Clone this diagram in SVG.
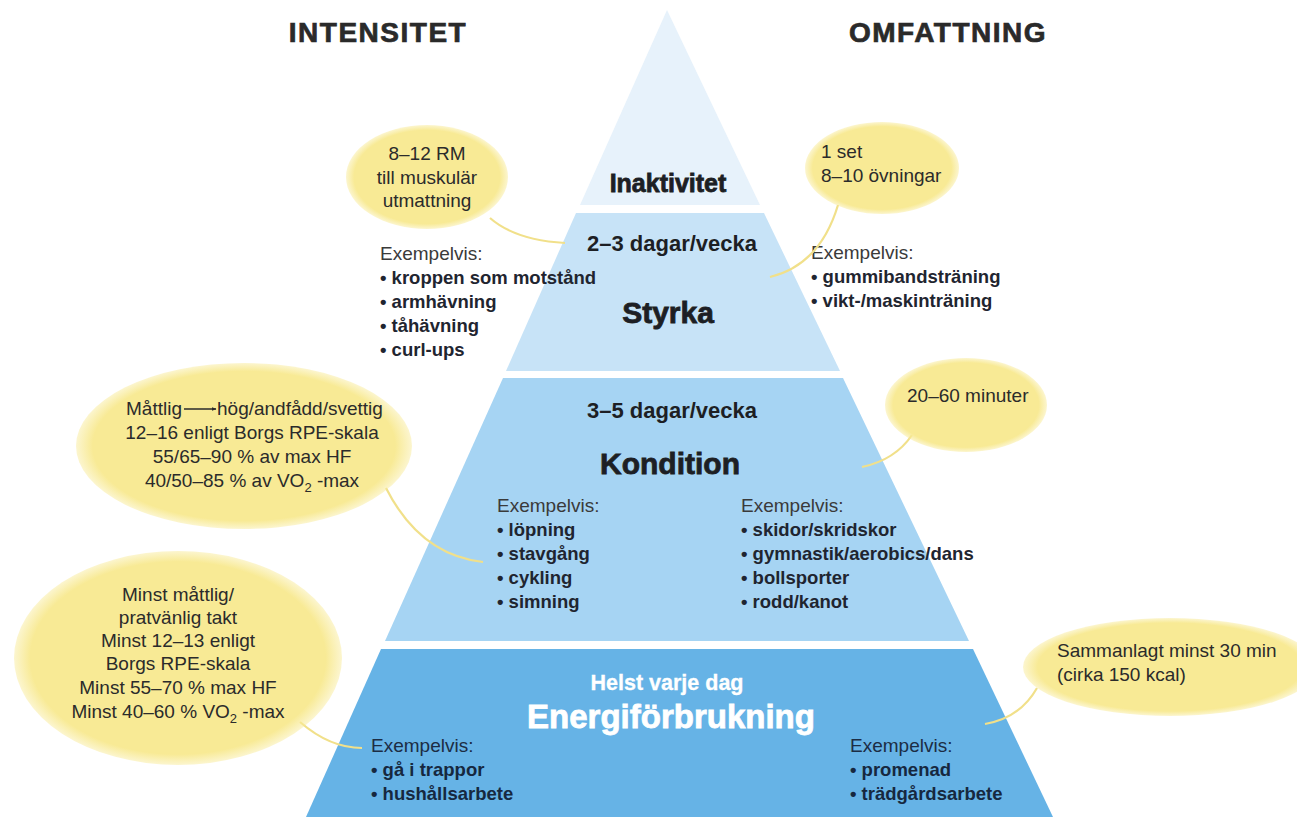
<svg xmlns="http://www.w3.org/2000/svg" width="1297" height="817" viewBox="0 0 1297 817">
  <defs>
    <radialGradient id="bub" cx="0.5" cy="0.5" r="0.5">
      <stop offset="0" stop-color="#f8ea95"/>
      <stop offset="0.9" stop-color="#f8ea95"/>
      <stop offset="1" stop-color="#f8ea95" stop-opacity="0.45"/>
    </radialGradient>
    <marker id="arr" viewBox="0 0 10 10" refX="9" refY="5" markerWidth="5" markerHeight="5" orient="auto" markerUnits="userSpaceOnUse">
      <path d="M0,1 L10,5 L0,9 z" fill="#2b2b2b"/>
    </marker>
  </defs>
  <style>
    .hdr { font-family: "Liberation Sans", Arial, sans-serif; font-weight: bold; font-size: 28px; letter-spacing: 1.5px; fill: #2a2a2a; stroke: #2a2a2a; stroke-width: 0.7px; }
    .bt { font-family: "Liberation Sans", Arial, sans-serif; font-size: 19px; fill: #2b2b2b; }
    .ex { font-family: "Liberation Sans", Arial, sans-serif; font-size: 19px; fill: #3a3a3a; }
    .bl { font-family: "Liberation Sans", Arial, sans-serif; font-size: 18.5px; font-weight: bold; fill: #1f2530; }
    .exd { font-family: "Liberation Sans", Arial, sans-serif; font-size: 19px; fill: #1c2d44; }
    .bld { font-family: "Liberation Sans", Arial, sans-serif; font-size: 18.5px; font-weight: bold; fill: #16283f; }
    .big { font-family: "Liberation Sans", Arial, sans-serif; font-weight: bold; fill: #1d1f24; stroke: #1d1f24; stroke-width: 0.8px; text-anchor: middle; }
    .white { fill: #ffffff; stroke: #ffffff; }
    .thin { stroke-width: 0.3px; }
    .freq { font-family: "Liberation Sans", Arial, sans-serif; font-weight: bold; font-size: 22px; fill: #1d1f24; text-anchor: middle; }
    .bubble { fill: url(#bub); }
    .conn { fill: none; stroke: #f1e08a; stroke-width: 2.2; }
  </style>
  <rect width="1297" height="817" fill="#ffffff"/>

  <text class="hdr" x="378" y="42" text-anchor="middle">INTENSITET</text>
  <text class="hdr" x="948" y="42" text-anchor="middle">OMFATTNING</text>

  <g id="inaktivitet">
    <polygon points="667,10 760,205 580,205" fill="#e7f2fb"/>
    <text class="big" x="668" y="192" font-size="25">Inaktivitet</text>
  </g>

  <g id="styrka">
    <polygon points="576,213 764,213 840,371 506,371" fill="#c7e3f7"/>
    <text class="freq" x="672" y="251">2–3 dagar/vecka</text>
    <text class="big" x="668" y="323" font-size="30">Styrka</text>
    <text class="ex" x="380" y="260">Exempelvis:</text>
    <text class="bl" x="380" y="284">• kroppen som motstånd</text>
    <text class="bl" x="380" y="308">• armhävning</text>
    <text class="bl" x="380" y="332">• tåhävning</text>
    <text class="bl" x="380" y="356">• curl-ups</text>
    <text class="ex" x="811" y="259">Exempelvis:</text>
    <text class="bl" x="811" y="283">• gummibandsträning</text>
    <text class="bl" x="811" y="307">• vikt-/maskinträning</text>
  </g>

  <g id="kondition">
    <polygon points="503,378 843,378 969,641 385,641" fill="#a6d4f3"/>
    <text class="freq" x="672" y="418">3–5 dagar/vecka</text>
    <text class="big" x="670" y="474" font-size="30">Kondition</text>
    <text class="ex" x="497" y="512">Exempelvis:</text>
    <text class="bl" x="497" y="536">• löpning</text>
    <text class="bl" x="497" y="560">• stavgång</text>
    <text class="bl" x="497" y="584">• cykling</text>
    <text class="bl" x="497" y="608">• simning</text>
    <text class="ex" x="741" y="512">Exempelvis:</text>
    <text class="bl" x="741" y="536">• skidor/skridskor</text>
    <text class="bl" x="741" y="560">• gymnastik/aerobics/dans</text>
    <text class="bl" x="741" y="584">• bollsporter</text>
    <text class="bl" x="741" y="608">• rodd/kanot</text>
  </g>

  <g id="energi">
    <polygon points="381,649 973,649 1053,817 306,817" fill="#66b3e6"/>
    <text class="big white thin" x="667" y="690" font-size="21.5">Helst varje dag</text>
    <text class="big white" x="671" y="728" font-size="33">Energiförbrukning</text>
    <text class="exd" x="371" y="752">Exempelvis:</text>
    <text class="bld" x="371" y="776">• gå i trappor</text>
    <text class="bld" x="371" y="800">• hushållsarbete</text>
    <text class="exd" x="850" y="752">Exempelvis:</text>
    <text class="bld" x="850" y="776">• promenad</text>
    <text class="bld" x="850" y="800">• trädgårdsarbete</text>
  </g>

  <g id="connectors">
    <path class="conn" d="M 490 218 Q 515 240 565 243"/>
    <path class="conn" d="M 838 205 Q 820 265 770 277"/>
    <path class="conn" d="M 386 488 Q 420 555 483 562"/>
    <path class="conn" d="M 912 435 Q 895 460 862 467"/>
    <path class="conn" d="M 300 722 Q 330 748 362 748"/>
    <path class="conn" d="M 1037 688 Q 1020 718 985 724"/>
  </g>

  <g id="bubble-styrka-intensitet">
    <ellipse class="bubble" cx="427" cy="177" rx="81" ry="52"/>
    <text class="bt" x="427" y="160" text-anchor="middle">8–12 RM</text>
    <text class="bt" x="427" y="184" text-anchor="middle">till muskulär</text>
    <text class="bt" x="427" y="207" text-anchor="middle">utmattning</text>
  </g>

  <g id="bubble-styrka-omfattning">
    <ellipse class="bubble" cx="882" cy="168" rx="77" ry="46"/>
    <text class="bt" x="821" y="158">1 set</text>
    <text class="bt" x="821" y="182">8–10 övningar</text>
  </g>

  <g id="bubble-kondition-intensitet">
    <ellipse class="bubble" cx="244" cy="446" rx="168" ry="83"/>
    <text class="bt" x="182" y="415" text-anchor="end">Måttlig</text>
    <line x1="184" y1="409" x2="216" y2="409" stroke="#2b2b2b" stroke-width="1.5" marker-end="url(#arr)"/>
    <text class="bt" x="217" y="415">hög/andfådd/svettig</text>
    <text class="bt" x="252" y="439" text-anchor="middle">12–16 enligt Borgs RPE-skala</text>
    <text class="bt" x="252" y="463" text-anchor="middle">55/65–90 % av max HF</text>
    <text class="bt" x="252" y="487" text-anchor="middle">40/50–85 % av VO<tspan font-size="13" dy="5">2</tspan><tspan dy="-5"> -max</tspan></text>
  </g>

  <g id="bubble-kondition-omfattning">
    <ellipse class="bubble" cx="966" cy="405" rx="81" ry="47"/>
    <text class="bt" x="907" y="402">20–60 minuter</text>
  </g>

  <g id="bubble-energi-intensitet">
    <ellipse class="bubble" cx="178" cy="658" rx="164" ry="107"/>
    <text class="bt" x="178" y="601" text-anchor="middle">Minst måttlig/</text>
    <text class="bt" x="178" y="624" text-anchor="middle">pratvänlig takt</text>
    <text class="bt" x="178" y="647" text-anchor="middle">Minst 12–13 enligt</text>
    <text class="bt" x="178" y="670" text-anchor="middle">Borgs RPE-skala</text>
    <text class="bt" x="178" y="694" text-anchor="middle">Minst 55–70 % max HF</text>
    <text class="bt" x="178" y="718" text-anchor="middle">Minst 40–60 % VO<tspan font-size="13" dy="5">2</tspan><tspan dy="-5"> -max</tspan></text>
  </g>

  <g id="bubble-energi-omfattning">
    <ellipse class="bubble" cx="1170" cy="667" rx="147" ry="49"/>
    <text class="bt" x="1057" y="657">Sammanlagt minst 30 min</text>
    <text class="bt" x="1057" y="681">(cirka 150 kcal)</text>
  </g>
</svg>
